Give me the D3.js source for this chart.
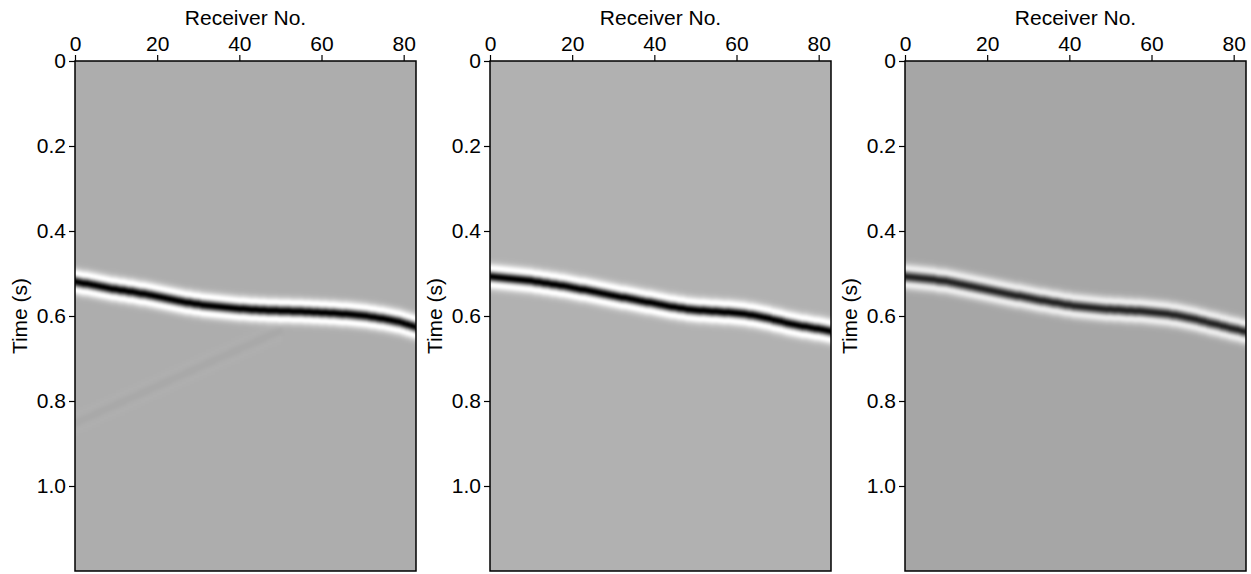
<!DOCTYPE html>
<html lang="en">
<head>
<meta charset="UTF-8">
<title>Receiver gathers</title>
<script src="https://d3js.org/d3.v7.min.js"></script>
<style>
  html, body { margin: 0; padding: 0; background: #fff; }
  text { font-family: "Liberation Sans", Arial, sans-serif; fill: #000; }
</style>
</head>
<body>
<div id="chart"></div>
<script>
// receiver numbers (one trace each)
const receivers = d3.range(84);
const xTicks = [0, 20, 40, 60, 80];
const yTicks = [0, 0.2, 0.4, 0.6, 0.8, 1.0];

// picked arrival time (s) of the main event, per receiver
const eventTimes1 = [0.519,0.521,0.523,0.524,0.526,0.528,0.530,0.532,0.534,0.536,0.537,0.539,0.540,0.542,0.543,0.545,0.547,0.548,0.550,0.552,
  0.554,0.556,0.558,0.560,0.562,0.564,0.566,0.568,0.569,0.571,0.572,0.574,0.575,0.576,0.577,0.578,0.579,0.580,0.581,0.582,
  0.583,0.583,0.584,0.585,0.585,0.586,0.586,0.587,0.587,0.587,0.588,0.588,0.588,0.589,0.589,0.589,0.590,0.590,0.591,0.591,
  0.592,0.592,0.593,0.593,0.594,0.595,0.595,0.596,0.597,0.598,0.599,0.600,0.602,0.603,0.605,0.606,0.608,0.610,0.612,0.614,
  0.617,0.620,0.623,0.626];
const eventTimes2 = [0.507,0.508,0.509,0.510,0.511,0.512,0.513,0.514,0.515,0.516,0.517,0.519,0.520,0.522,0.523,0.525,0.526,0.528,0.529,0.531,
  0.533,0.535,0.537,0.538,0.540,0.542,0.544,0.546,0.548,0.550,0.552,0.554,0.556,0.557,0.559,0.561,0.563,0.565,0.567,0.568,
  0.570,0.572,0.574,0.576,0.578,0.579,0.581,0.582,0.584,0.585,0.586,0.587,0.587,0.588,0.589,0.589,0.590,0.591,0.591,0.592,
  0.593,0.594,0.595,0.597,0.598,0.600,0.602,0.604,0.606,0.609,0.611,0.613,0.616,0.618,0.620,0.622,0.624,0.625,0.627,0.629,
  0.630,0.632,0.634,0.636];
const eventTimes3 = [0.507,0.508,0.509,0.510,0.511,0.512,0.513,0.514,0.516,0.517,0.518,0.520,0.522,0.524,0.526,0.528,0.530,0.532,0.534,0.536,
  0.538,0.540,0.542,0.544,0.546,0.548,0.550,0.552,0.553,0.555,0.557,0.559,0.561,0.563,0.564,0.566,0.568,0.569,0.571,0.573,
  0.574,0.576,0.577,0.578,0.579,0.580,0.581,0.582,0.583,0.584,0.584,0.585,0.585,0.586,0.587,0.587,0.588,0.588,0.589,0.590,
  0.591,0.592,0.593,0.594,0.595,0.597,0.598,0.600,0.602,0.604,0.606,0.608,0.611,0.613,0.616,0.618,0.620,0.623,0.625,0.628,
  0.630,0.632,0.635,0.637];
// faint linear noise event seen in the first gather (receivers 0-50)
const faintTimes1 = [0.852,0.848,0.843,0.839,0.835,0.830,0.826,0.821,0.817,0.813,0.808,0.804,0.800,0.795,0.791,0.787,0.782,0.778,0.774,0.769,
  0.765,0.760,0.756,0.752,0.747,0.743,0.739,0.734,0.730,0.726,0.721,0.717,0.712,0.708,0.704,0.699,0.695,0.691,0.686,0.682,
  0.678,0.673,0.669,0.665,0.660,0.656,0.652,0.647,0.643,0.639,0.634];
const eventAmps = [1.0, 1.0, 0.78];
const faintAmp = 0.025;

const width = 1251, height = 574;
const margin = {top: 61, bottom: 3};
const panelLeft = [75, 490, 905];
const panelWidth = 341;
const panelBg = [173, 177, 166];

const tMax = 1.2, dt = 0.002, nt = Math.round(tMax / dt) + 1;
const freq = 19; // wavelet peak frequency

const ricker = t => {
  const a = Math.PI * Math.PI * freq * freq * t * t;
  return (1 - 2 * a) * Math.exp(-a);
};

const svg = d3.select('#chart').append('svg')
  .attr('width', width)
  .attr('height', height);

const x = d3.scaleLinear().domain([0, 83]).range([0, panelWidth]);
const y = d3.scaleLinear().domain([0, tMax]).range([0, height - margin.top - margin.bottom]);

const panels = [
  {times: eventTimes1, amp: eventAmps[0], bg: panelBg[0], faint: faintTimes1},
  {times: eventTimes2, amp: eventAmps[1], bg: panelBg[1], faint: null},
  {times: eventTimes3, amp: eventAmps[2], bg: panelBg[2], faint: null}
];

panels.forEach((p, pi) => {
  const g = svg.append('g').attr('transform', `translate(${panelLeft[pi]},${margin.top})`);

  // gather image: one column per receiver, one row per time sample
  const canvas = d3.create('canvas').attr('width', receivers.length).attr('height', nt).node();
  const ctx = canvas.getContext('2d');
  const img = ctx.createImageData(receivers.length, nt);
  const shade = d3.scaleLinear().domain([-0.45, 0, 1]).range([255, p.bg, 0]).clamp(true);
  receivers.forEach((r, i) => {
    for (let k = 0; k < nt; k++) {
      const t = k * dt;
      let a = p.amp * ricker(t - p.times[i]);
      if (p.faint && p.faint[i] != null) a += faintAmp * ricker(t - p.faint[i]);
      const v = Math.round(shade(a));
      const o = (k * receivers.length + i) * 4;
      img.data[o] = img.data[o + 1] = img.data[o + 2] = v;
      img.data[o + 3] = 255;
    }
  });
  ctx.putImageData(img, 0, 0);

  g.append('clipPath').attr('id', 'clip' + pi)
    .append('rect').attr('width', panelWidth).attr('height', y(tMax));

  g.append('g').attr('clip-path', `url(#clip${pi})`)
    .append('image')
    .attr('href', canvas.toDataURL())
    .attr('x', x(-0.5))
    .attr('width', x(83.5) - x(-0.5))
    .attr('y', y(-dt / 2))
    .attr('height', y(tMax + dt / 2) - y(-dt / 2))
    .attr('preserveAspectRatio', 'none');

  // frame
  g.append('rect')
    .attr('width', panelWidth).attr('height', y(tMax))
    .attr('fill', 'none').attr('stroke', '#000').attr('stroke-width', 1.5);

  // axes
  const gx = g.append('g').call(d3.axisTop(x).tickValues(xTicks).tickSize(6).tickPadding(4));
  const gy = g.append('g').call(d3.axisLeft(y).tickValues(yTicks).tickSize(6).tickPadding(3)
    .tickFormat(d => d === 0 ? '0' : d3.format('.1f')(d)));
  [gx, gy].forEach(a => {
    a.select('.domain').remove();
    a.selectAll('.tick line').attr('stroke', '#000').attr('stroke-width', 1.2);
    a.selectAll('.tick text').attr('font-size', 21).attr('font-family', '"Liberation Sans", Arial, sans-serif').attr('fill', '#000');
  });

  g.append('text')
    .attr('x', panelWidth / 2).attr('y', -36)
    .attr('text-anchor', 'middle').attr('font-size', 21)
    .text('Receiver No.');

  g.append('text')
    .attr('transform', `translate(-48,${y(tMax) / 2}) rotate(-90)`)
    .attr('text-anchor', 'middle').attr('font-size', 21)
    .text('Time (s)');
});
</script>
</body>
</html>
